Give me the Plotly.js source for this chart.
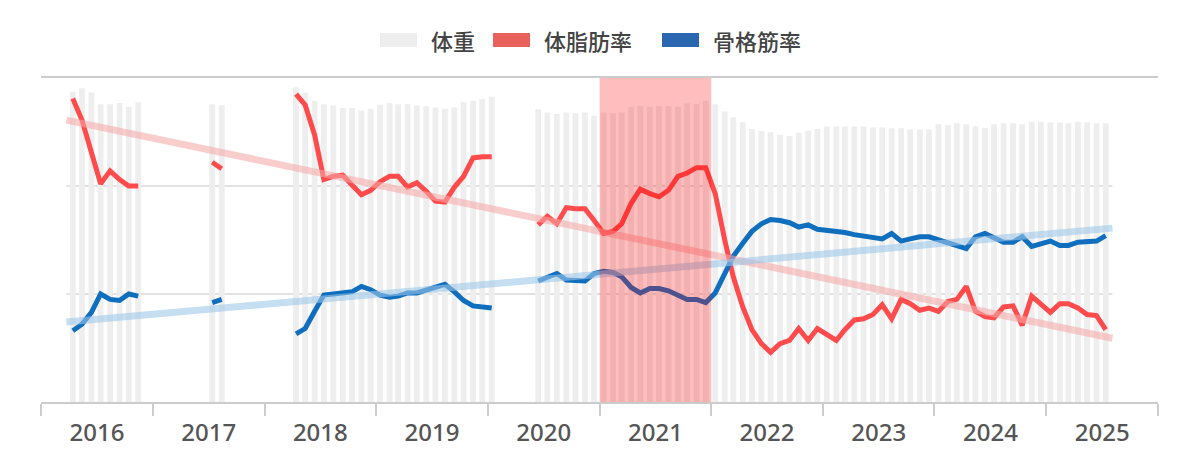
<!DOCTYPE html>
<html>
<head>
<meta charset="utf-8">
<script src="https://cdn.plot.ly/plotly-3.0.1.min.js"></script>
<style>
  html, body { margin: 0; padding: 0; background: #fff; }
  #chart { width: 1200px; height: 471px; }
</style>
</head>
<body>
<div id="chart"></div>
<script>
// Monthly readings, in four runs with gaps between them.
// Each run: first month, then weight (kg), body fat (%), skeletal muscle (%).
const runStarts = ["2016-04", "2017-07", "2018-04", "2020-06"];

const weightRuns = [
  [76.6, 77.5, 76.4, 73.5, 73.5, 73.8, 72.9, 74.0],
  [73.5, 73.3],
  [77.7, 76.4, 74.4, 73.5, 73.2, 72.6, 72.6, 72.0, 72.4, 73.4, 73.8,
   73.5, 73.6, 73.2, 73.0, 72.7, 72.4, 72.7, 74.1, 74.4, 74.8, 75.4],
  [72.3, 71.5, 71.1, 71.5, 71.3, 71.5, 70.7,
   71.5, 71.3, 71.5, 72.9, 73.1, 72.9, 73.1, 73.1, 72.9, 73.7, 73.5, 74.4,
   73.5, 71.7, 70.3, 69.1, 67.4, 66.9, 66.6, 65.9, 65.7, 66.5, 67.0, 67.4,
   68.0, 68.0, 68.0, 68.0, 68.0, 67.8, 67.8, 67.6, 67.6, 67.3, 67.3, 67.3,
   68.6, 68.4, 68.8, 68.6, 68.1, 67.7, 68.6, 68.8, 68.8, 68.6, 69.2, 69.2,
   69.0, 69.0, 68.8, 69.2, 69.1, 68.8, 68.8],
];

const fatRuns = [
  [38.1, 36.1, 33.1, 30.2, 31.4, 30.6, 30.0, 30.0],
  [32.2, 31.6],
  [38.5, 37.5, 34.7, 30.6, 30.9, 31.0, 30.1, 29.2, 29.6, 30.4, 30.9,
   30.9, 29.9, 30.3, 29.5, 28.6, 28.5, 29.9, 30.9, 32.6, 32.7, 32.7],
  [26.4, 27.2, 26.5, 28.0, 27.9, 27.9, 26.8,
   25.6, 25.8, 26.5, 28.4, 29.7, 29.3, 29.0, 29.6, 30.9, 31.2, 31.7, 31.7,
   29.3, 25.0, 21.6, 18.8, 16.7, 15.4, 14.6, 15.4, 15.7, 16.8, 15.7, 16.8,
   16.3, 15.7, 16.7, 17.6, 17.7, 18.1, 19.0, 17.7, 19.5, 19.1, 18.5, 18.7,
   18.4, 19.3, 19.5, 20.7, 18.4, 17.9, 17.8, 18.8, 18.9, 17.1, 19.8, 19.0,
   18.3, 19.1, 19.1, 18.7, 18.1, 18.0, 16.7],
];

const muscleRuns = [
  [16.6, 17.2, 18.3, 20.0, 19.5, 19.4, 20.0, 19.8],
  [19.2, 19.5],
  [16.3, 16.8, 18.4, 19.9, 20.0, 20.1, 20.2, 20.7, 20.4, 19.9, 19.7,
   19.8, 20.1, 20.1, 20.4, 20.7, 20.9, 20.2, 19.4, 18.9, 18.8, 18.7],
  [21.2, 21.6, 21.9, 21.3, 21.2, 21.2, 21.9,
   22.1, 22.0, 21.6, 20.6, 20.1, 20.5, 20.5, 20.3, 19.9, 19.5, 19.5, 19.2,
   20.1, 21.9, 23.5, 24.7, 25.8, 26.5, 26.9, 26.8, 26.6, 26.2, 26.4, 26.0,
   25.9, 25.9, 25.7, 25.5, 25.4, 25.3, 25.1, 25.6, 24.9, 25.1, 25.3, 25.3,
   25.0, 24.8, 24.5, 24.2, 25.3, 25.6, 25.2, 24.8, 24.8, 25.3, 24.4, 24.6,
   24.9, 24.5, 24.5, 24.8, 24.9, 24.9, 25.4],
];

// Trend lines, end points only.
const trendDates = ["2016-03-24", "2025-08-05"];
const fatTrend = [36.1, 15.9];
const muscleTrend = [17.4, 26.1];

// Highlighted year.
const highlight = ["2021-01-01", "2022-01-01"];

const legendNames = ["体重", "体脂肪率", "骨格筋率"];
const legendColors = ["#eeeeee", "#e8615a", "#2b66b0"];

const FONT = "Noto Sans, Noto Sans CJK JP, sans-serif";

// "2016-04", n -> ["2016-04-14", "2016-05-14", ...]
const monthsFrom = (start, n) => {
  let [y, m] = start.split("-").map(Number);
  const out = [];
  for (let i = 0; i < n; i++) {
    out.push(`${y}-${String(m).padStart(2, "0")}-14`);
    m++;
    if (m > 12) { m = 1; y++; }
  }
  return out;
};

const runDates = runStarts.map((s, i) => monthsFrom(s, weightRuns[i].length));

// Join runs into one series, with a null after each run so the line breaks.
const joinRuns = (runs) => {
  const x = [], y = [];
  runs.forEach((vals, i) => {
    x.push(...runDates[i]);
    y.push(...vals);
    if (i < runs.length - 1) {
      x.push(runDates[i][vals.length - 1].slice(0, 8) + "27");
      y.push(null);
    }
  });
  return { x, y };
};

const fat = joinRuns(fatRuns);
const muscle = joinRuns(muscleRuns);

const traces = [
  {
    type: "bar",
    x: runDates.flat(),
    y: weightRuns.flat(),
    width: 19 * 86400000,
    marker: { color: "#eeeeee" },
    hoverinfo: "skip",
  },
  {
    type: "scatter", mode: "lines", yaxis: "y2",
    x: fat.x, y: fat.y, connectgaps: false,
    line: { color: "#ff4b4b", width: 5 },
  },
  {
    type: "scatter", mode: "lines", yaxis: "y2",
    x: muscle.x, y: muscle.y, connectgaps: false,
    line: { color: "#106ebe", width: 5 },
  },
  {
    type: "scatter", mode: "lines", yaxis: "y2",
    x: trendDates, y: fatTrend,
    line: { color: "rgba(246,169,169,0.58)", width: 7 },
  },
  {
    type: "scatter", mode: "lines", yaxis: "y2",
    x: trendDates, y: muscleTrend,
    line: { color: "rgba(157,199,233,0.59)", width: 7 },
  },
];

// plot area in pixels, for the hand drawn legend
const PL = 41, PR = 1158, PT = 78, PB = 402;
const px = (v) => (v - PL) / (PR - PL);
const py = (v) => (PB - v) / (PB - PT);

const legendBoxX = [380, 493, 662];
const shapes = [
  // inner grid lines, only over the data span
  ...[20, 30].map((v) => ({
    type: "line", xref: "x", yref: "y2",
    x0: trendDates[0], x1: trendDates[1], y0: v, y1: v,
    line: { color: "#e2e2e2", width: 2 }, layer: "below",
  })),
  {
    type: "rect", xref: "x", yref: "paper",
    x0: highlight[0], x1: highlight[1], y0: 0, y1: 1,
    fillcolor: "rgba(255,0,0,0.26)", line: { width: 0 }, layer: "above",
  },
  ...legendBoxX.map((x, i) => ({
    type: "rect", xref: "paper", yref: "paper",
    x0: px(x), x1: px(x + 37), y0: py(47), y1: py(33),
    fillcolor: legendColors[i], line: { width: 0 },
  })),
];

const annotations = legendNames.map((name, i) => ({
  xref: "paper", yref: "paper",
  x: px(legendBoxX[i] + 49), y: py(40),
  xanchor: "left", yanchor: "middle",
  text: name, showarrow: false,
  font: { family: "Noto Sans CJK JP, sans-serif", size: 22, weight: 500, color: "#444" },
}));

const layout = {
  width: 1200,
  height: 471,
  margin: { l: PL, r: 1200 - PR, t: PT, b: 471 - PB },
  paper_bgcolor: "#ffffff",
  plot_bgcolor: "#ffffff",
  showlegend: false,
  font: { family: FONT, color: "#555" },
  xaxis: {
    type: "date",
    range: ["2016-01-01", "2026-01-01"],
    tick0: "2016-01-01",
    dtick: "M12",
    tickformat: "%Y",
    ticklabelmode: "period",
    ticks: "outside",
    ticklen: 12,
    tickwidth: 2,
    tickcolor: "#cccccc",
    ticklabelstandoff: -4,
    showline: true,
    mirror: true,
    linecolor: "#cccccc",
    linewidth: 2,
    showgrid: false,
    zeroline: false,
    tickfont: { family: FONT, size: 24, weight: 500, color: "#555" },
  },
  yaxis: { range: [0, 80], visible: false, showgrid: false, zeroline: false },
  yaxis2: {
    range: [10, 40], overlaying: "y", visible: false,
    showgrid: false, zeroline: false,
  },
  shapes: shapes,
  annotations: annotations,
};

Plotly.newPlot("chart", traces, layout, { displayModeBar: false, staticPlot: true });
</script>
</body>
</html>
